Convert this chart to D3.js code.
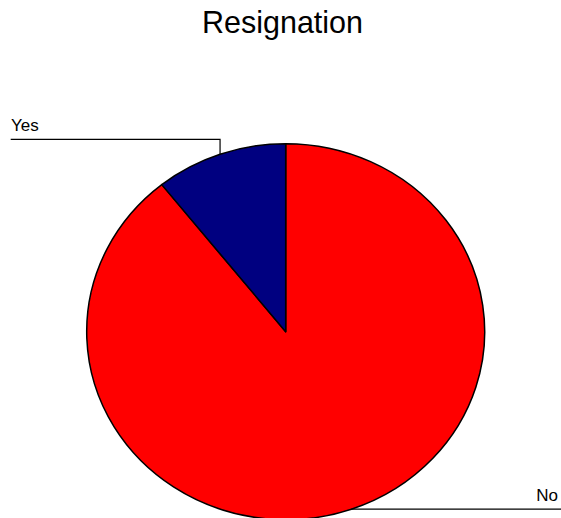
<!DOCTYPE html>
<html><head><meta charset="utf-8">
<script src="https://cdn.jsdelivr.net/npm/d3@7"></script>
<style>body{margin:0;background:#fff}svg{display:block}text{font-family:"Liberation Sans",Arial,sans-serif;fill:#000}</style>
</head><body>
<script>
const categories = ["No", "Yes"];
const values = [89.3, 10.7];
const colors = ["#ff0000", "#000080"];
const title = "Resignation";

const W = 561, H = 518;
const cx = 285.7, cy = 331.7, rx = 199, ry = 188;
const svg = d3.select("body").append("svg").attr("width", W).attr("height", H);

svg.append("text").attr("x", 282.5).attr("y", 33.3).attr("text-anchor", "middle")
  .style("font-size", "30.5px").text(title);

const data = categories.map((c, i) => ({ name: c, value: values[i], color: colors[i] }));
const pie = d3.pie().value(d => d.value).sort(null);
const arcs = pie(data);
const arc = d3.arc().innerRadius(0).outerRadius(ry);

const g = svg.append("g").attr("transform", `translate(${cx},${cy}) scale(${rx / ry},1)`);
g.selectAll("path").data(arcs).join("path")
  .attr("d", arc)
  .attr("fill", d => d.data.color)
  .attr("stroke", "#000").attr("stroke-width", 1.5)
  .attr("vector-effect", "non-scaling-stroke")
  .attr("stroke-linejoin", "round");

// leader lines and labels
arcs.forEach(a => {
  const m = (a.startAngle + a.endAngle) / 2;
  const px = cx + rx * Math.sin(m), py = cy - ry * Math.cos(m);
  if (a.data.name === "Yes") {
    const ly = 139.3;
    svg.append("path").attr("d", `M${px},${py}V${ly}H10.7`)
      .attr("fill", "none").attr("stroke", "#000").attr("stroke-width", 1.2);
    svg.append("text").attr("x", 11).attr("y", 130.7).style("font-size", "17px").text(a.data.name);
  } else {
    svg.append("path").attr("d", `M${px},${py}H561`)
      .attr("fill", "none").attr("stroke", "#000").attr("stroke-width", 1.2);
    svg.append("text").attr("x", 558).attr("y", 500.5).attr("text-anchor", "end")
      .style("font-size", "17px").text(a.data.name);
  }
});
</script>
</body></html>
